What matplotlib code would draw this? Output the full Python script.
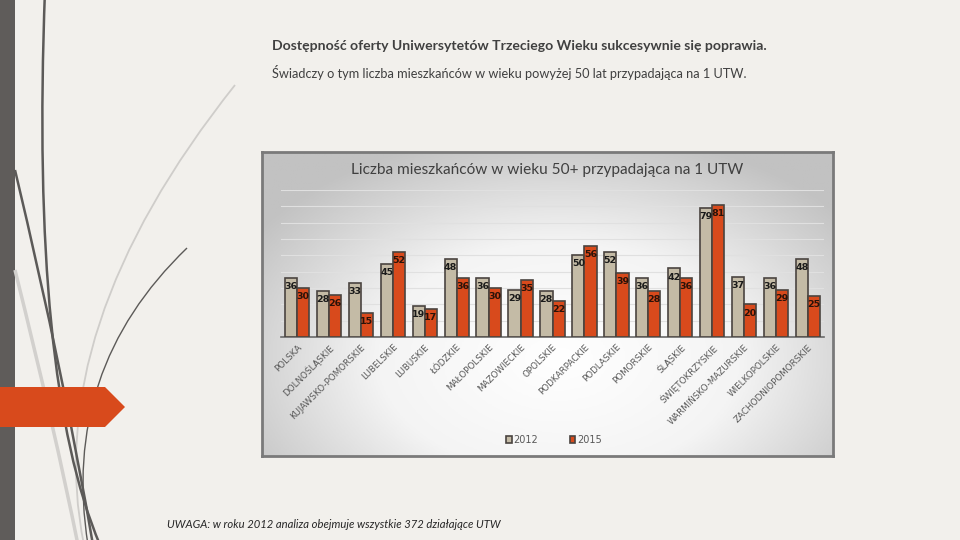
import numpy as np
import matplotlib
matplotlib.use("Agg")
import matplotlib.pyplot as plt
from matplotlib.path import Path
from matplotlib.patches import PathPatch, Polygon, Rectangle
from matplotlib.colors import LinearSegmentedColormap

# data
regions = ['POLSKA', 'DOLNOŚLĄSKIE', 'KUJAWSKO-POMORSKIE', 'LUBELSKIE', 'LUBUSKIE',
           'ŁÓDZKIE', 'MAŁOPOLSKIE', 'MAZOWIECKIE', 'OPOLSKIE', 'PODKARPACKIE',
           'PODLASKIE', 'POMORSKIE', 'ŚLĄSKIE', 'ŚWIĘTOKRZYSKIE', 'WARMIŃSKO-MAZURSKIE',
           'WIELKOPOLSKIE', 'ZACHODNIOPOMORSKIE']
y2012 = [36, 28, 33, 45, 19, 48, 36, 29, 28, 50, 52, 36, 42, 79, 37, 36, 48]
y2015 = [30, 26, 15, 52, 17, 36, 30, 35, 22, 56, 39, 28, 36, 81, 20, 29, 25]
years = ['2012', '2015']

c2012 = '#C4BBA6'
c2015 = '#D84A1C'
edge = '#4a4440'
txt = '#404040'

plt.rcParams['font.family'] = ['DejaVu Sans']
slide_font = ['Lato', 'DejaVu Sans']

fig = plt.figure(figsize=(9.6, 5.4), dpi=100)
fig.patch.set_facecolor('#F2F0EC')

# slide decoration layer (pixel coords)
bg = fig.add_axes([0, 0, 1, 1], zorder=-10)
bg.set_xlim(0, 960)
bg.set_ylim(540, 0)
bg.axis('off')
bg.add_patch(Rectangle((0, 0), 15, 540, color='#5F5C5A', lw=0))

def curve(p0, c, p1, color, lw):
    path = Path([p0, c, p1], [Path.MOVETO, Path.CURVE3, Path.CURVE3])
    bg.add_patch(PathPatch(path, fc='none', ec=color, lw=lw))

curve((235, 85), (40, 330), (84, 545), '#cfcdca', 1.3)
curve((15, 270), (55, 430), (78, 545), '#d2d0cd', 2.5)
curve((45, -10), (30, 380), (100, 545), '#5c5a58', 1.8)
curve((15, 170), (65, 380), (93, 545), '#5c5a58', 1.8)
curve((187, 248), (60, 370), (88, 545), '#5c5a58', 1.0)
bg.add_patch(Polygon([(0, 387), (105, 387), (125, 407), (105, 427), (0, 427)],
                     closed=True, color='#D84A1C', lw=0))

bg.text(272, 46, 'Dostępność oferty Uniwersytetów Trzeciego Wieku sukcesywnie się poprawia.',
        fontsize=10.1, fontweight='bold', color=txt, va='center', family=slide_font)
bg.text(272, 72, 'Świadczy o tym liczba mieszkańców w wieku powyżej 50 lat przypadająca na 1 UTW.',
        fontsize=9.2, color=txt, va='center', family=slide_font)
bg.text(167, 525, 'UWAGA: w roku 2012 analiza obejmuje wszystkie 372 działające UTW',
        fontsize=8.1, style='italic', color='#262626', va='center', family=slide_font)

# chart box with radial gradient
box = fig.add_axes([262 / 960, (540 - 456) / 540, (833 - 262) / 960, (456 - 152) / 540], zorder=-5)
gx, gy = np.meshgrid(np.linspace(0, 1, 300), np.linspace(0, 1, 200))
r = np.sqrt(((gx - 0.52) / 0.75) ** 2 + ((gy - 0.68) / 0.9) ** 2)
cmap = LinearSegmentedColormap.from_list('g', ['#ffffff', '#f4f4f4', '#c2c2c2'])
box.imshow(r, cmap=cmap, extent=(0, 1, 0, 1), origin='upper', aspect='auto', vmin=0, vmax=0.85)
box.set_xticks([])
box.set_yticks([])
for s in box.spines.values():
    s.set_color('#7a7a7a')
    s.set_linewidth(2)
box.text(0.5, 0.94, 'Liczba mieszkańców w wieku 50+ przypadająca na 1 UTW',
         transform=box.transAxes, ha='center', va='center', fontsize=11.1, color=txt,
         family=slide_font)

# bar plot
ax = fig.add_axes([281 / 960, (540 - 337) / 540, 543 / 960, 147 / 540])
ax.patch.set_alpha(0)
x = np.arange(len(regions))
w = 0.38
b1 = ax.bar(x - w / 2, y2012, w, color=c2012, edgecolor=edge, lw=1.2, label=years[0], zorder=3)
b2 = ax.bar(x + w / 2, y2015, w, color=c2015, edgecolor=edge, lw=1.2, label=years[1], zorder=3)
for bars, col in ((b1, '#1a1a1a'), (b2, '#2a1208')):
    for b in bars:
        ax.annotate(f'{b.get_height():.0f}', (b.get_x() + b.get_width() / 2, b.get_height()),
                    xytext=(0, -3), textcoords='offset points', ha='center', va='top',
                    fontsize=6.8, fontweight='bold', color=col, zorder=4)

ax.set_xlim(-0.5, len(regions) - 0.5)
ax.set_ylim(0, 90)
ax.set_yticks(np.arange(10, 91, 10))
ax.yaxis.grid(True, color='#e0e0e0', lw=0.8)
ax.set_axisbelow(True)
ax.tick_params(axis='y', left=False, labelleft=False)
ax.tick_params(axis='x', length=0, pad=4)
ax.set_xticks(x)
ax.set_xticklabels(regions, rotation=45, ha='right', va='top', rotation_mode='anchor',
                   fontsize=6.3, color='#595959')
for s in ('top', 'right', 'left'):
    ax.spines[s].set_visible(False)
ax.spines['bottom'].set_color('#6a6a6a')
ax.spines['bottom'].set_linewidth(1.2)

fig.legend(handles=[b1, b2], labels=years, loc='center', bbox_to_anchor=(554 / 960, 1 - 440 / 540),
           ncol=2, frameon=False, fontsize=7, labelcolor='#595959', handlelength=0.6,
           handleheight=0.6, columnspacing=3.2, handletextpad=0.2)

fig.savefig('out.png', dpi=100, facecolor=fig.get_facecolor())
